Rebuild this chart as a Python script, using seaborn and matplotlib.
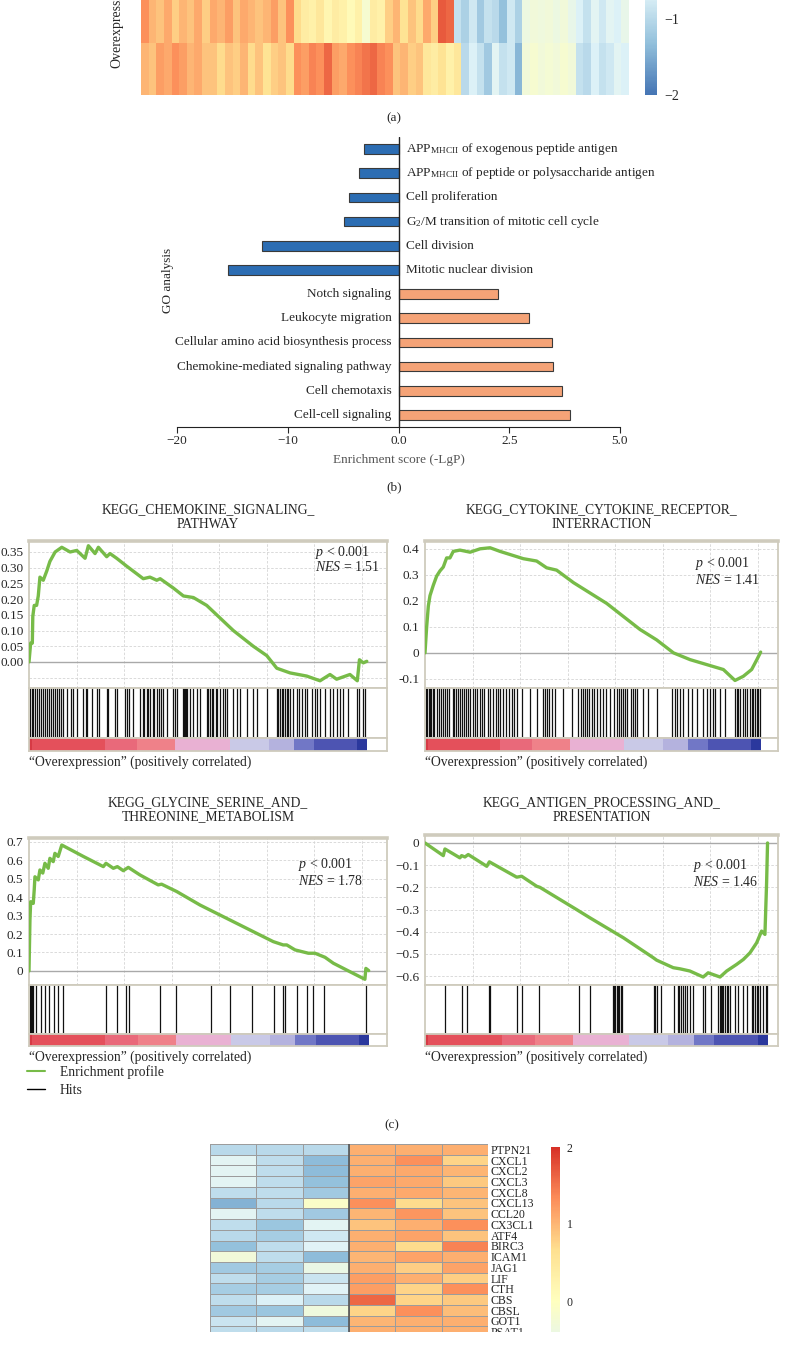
import numpy as np
import pandas as pd
import seaborn as sns
import matplotlib.pyplot as plt
from matplotlib.colors import LinearSegmentedColormap
from matplotlib.lines import Line2D
from matplotlib.patches import Rectangle

# ---------------- data ----------------
# (a) expression heatmap, the two visible "Overexpression" rows (z-scores)
heat_row1 = [1.3, 1.0, 0.9, 1.1, 0.8, 1.0, 0.9, 1.1, 0.8,
             1.1, 1.0, 1.2, 0.9, 1.1, 1.0, 0.9, 1.0,
             1.2, 0.9, 1.3, 0.7,
             0.4, 0.3, 0.5, 0.2, 0.4, 0.3, 0.1, 0.3, -0.2, 0.4, 0.3,
             0.8, 1.0, 0.6, 0.9, 0.7, 1.1, 0.8,
             1.7, 1.6,
             -0.9, -1.1, -0.8, -1.2, -0.9, -1.0, -1.3, -0.8, -1.1,
             -0.4, -0.3, -0.35, -0.3, -0.4, -0.3, -0.5,
             -0.7, -0.9, -0.6, -0.8, -0.6, -0.7, -0.5]
heat_row2 = [1.0, 0.9, 1.2, 1.1, 1.3, 1.2, 1.0, 1.1, 0.9,
             0.9, 0.7, 0.9, 0.8, 1.0, 0.7, 0.9, 0.6, 0.8, 0.9, 0.7,
             1.3, 1.2, 1.4, 1.3, 1.6, 1.2, 1.1, 1.3, 1.4, 1.5, 1.6, 1.4, 1.3,
             0.9, 1.0, 0.8, 0.9,
             0.5, 0.4, 0.6, 0.3, 0.5,
             -1.0, -0.7, -0.9, -1.2, -0.6, -0.9, -0.8, -1.4,
             -0.3, -0.2, -0.3, -0.25, -0.3, -0.2, -0.3,
             -0.9, -1.0, -0.7, -0.9, -0.8, -0.6, -0.7]
heat_a_ticks = [-2, -1]
heat_a_labels = ["\u22122", "\u22121"]

# (b) GO enrichment
go_terms = [
    r"APP$_{\mathrm{MHCII}}$ of exogenous peptide antigen",
    r"APP$_{\mathrm{MHCII}}$ of peptide or polysaccharide antigen",
    "Cell proliferation",
    r"G$_{2}$/M transition of mitotic cell cycle",
    "Cell division",
    "Mitotic nuclear division",
    "Notch signaling",
    "Leukocyte migration",
    "Cellular amino acid biosynthesis process",
    "Chemokine-mediated signaling pathway",
    "Cell chemotaxis",
    "Cell-cell signaling",
]
go_scores = [-3.15, -3.6, -4.5, -4.95, -12.3, -15.4, 2.24, 2.94, 3.46, 3.48, 3.69, 3.87]
go_ticks = [-20, -10, 0, 2.5, 5]
go_tick_labels = ["\u221220", "\u221210", "0.0", "2.5", "5.0"]

# (c) GSEA running enrichment scores, hit positions (gene ranks)
gsea_titles = ["KEGG_CHEMOKINE_SIGNALING_\nPATHWAY",
               "KEGG_CYTOKINE_CYTOKINE_RECEPTOR_\nINTERRACTION",
               "KEGG_GLYCINE_SERINE_AND_\nTHREONINE_METABOLISM",
               "KEGG_ANTIGEN_PROCESSING_AND_\nPRESENTATION"]
gsea_nes = ["1.51", "1.41", "1.78", "1.46"]
gsea_list_size = [14220, 14130, 14320, 14450]

chemokine_rank = [0, 70, 140, 160, 220, 320, 390, 460, 600, 750,
                  880, 1100, 1380, 1730, 2010, 2360, 2500, 2780, 2920, 3270,
                  3410, 3690, 4110, 4810, 5090, 5380, 5520, 6080, 6500, 6920,
                  7480, 8600, 9440, 10010, 10430, 10990, 11690, 12250, 12670, 12950,
                  13510, 13820, 13910, 14070, 14220]
chemokine_es = [0, 0.06, 0.06, 0.145, 0.18, 0.18, 0.21, 0.27, 0.26, 0.29,
                0.32, 0.35, 0.365, 0.35, 0.355, 0.33, 0.37, 0.345, 0.365, 0.335,
                0.345, 0.33, 0.305, 0.265, 0.27, 0.26, 0.265, 0.235, 0.21, 0.205,
                0.18, 0.10, 0.05, 0.02, -0.02, -0.035, -0.045, -0.06, -0.04, -0.055,
                -0.04, -0.06, 0.007, -0.003, 0.002]
chemokine_hits = [40, 110, 180, 270, 350, 430, 490, 600, 690, 740, 830, 910, 1020, 1110,
                  1160, 1280, 1360, 1420, 1590, 1780, 1870, 2030, 2290, 2400, 2460, 2640,
                  2850, 2950, 3270, 3340, 3620, 3690, 4040, 4110, 4220, 4390, 4670, 4780,
                  4840, 4950, 5010, 5090, 5210, 5260, 5370, 5490, 5570, 5650, 5790, 6080,
                  6150, 6220, 6500, 6520, 6570, 6610, 6660, 6780, 6920, 7060, 7200, 7480,
                  7550, 7620, 7700, 7760, 7870, 7930, 8040, 8150, 8240, 8320, 8600, 8770,
                  8880, 9160, 9440, 9580, 10000, 10420, 10490, 10560, 10630, 10710, 10780,
                  10850, 10920, 10990, 11130, 11270, 11380, 11480, 11620, 11690, 11900,
                  12040, 12110, 12250, 12460, 12670, 12810, 12950, 13090, 13230, 13440,
                  13820, 13900, 14070, 14140]

cytokine_rank = [0, 70, 140, 210, 350, 490, 630, 770, 910, 1050,
                 1190, 1470, 1900, 2320, 2740, 3160, 3580, 4140, 4700, 5120,
                 5540, 6250, 6950, 7650, 8350, 9050, 9750, 10460, 11160, 11860,
                 12560, 13050, 13400, 13750, 13970, 14130]
cytokine_es = [0, 0.10, 0.18, 0.22, 0.26, 0.295, 0.315, 0.33, 0.365, 0.365,
               0.39, 0.395, 0.387, 0.40, 0.404, 0.39, 0.378, 0.362, 0.353, 0.327,
               0.318, 0.27, 0.23, 0.19, 0.14, 0.09, 0.05, 0.0, -0.026, -0.045,
               -0.064, -0.106, -0.09, -0.064, -0.026, 0.003]
cytokine_hits = [40, 100, 150, 210, 270, 320, 380, 490, 570, 660, 770, 860, 940, 1020,
                 1160, 1220, 1300, 1400, 1470, 1540, 1640, 1730, 1820, 1890, 2010, 2100,
                 2200, 2310, 2380, 2500, 2670, 2740, 2880, 2990, 3090, 3160, 3300, 3410,
                 3520, 3650, 3750, 3860, 4070, 4420, 4700, 4950, 5050, 5120, 5230, 5330,
                 5470, 5820, 6170, 6450, 6550, 6640, 6720, 6800, 6920, 7010, 7110, 7230,
                 7370, 7510, 7620, 7790, 7950, 8070, 8150, 8240, 8350, 8420, 8520, 8660,
                 8770, 8840, 8940, 9190, 9400, 9750, 10380, 10520, 10620, 10730, 10870,
                 11080, 11220, 11430, 11710, 11860, 12000, 12110, 12210, 12420, 12630,
                 13050, 13120, 13190, 13260, 13370, 13480, 13570, 13680, 13750, 13820,
                 13890, 13960, 14030, 14100]

glycine_rank = [0, 40, 70, 180, 220, 250, 390, 460, 580, 670,
                810, 880, 1020, 1090, 1230, 1380, 2290, 3130, 3240, 3550,
                3720, 3970, 4180, 4670, 5440, 5580, 6220, 7200, 7760, 8600,
                9300, 9440, 10280, 10700, 10850, 11200, 11760, 12040, 12460, 12810,
                13510, 14140, 14180, 14300]
glycine_es = [0, 0.276, 0.375, 0.366, 0.44, 0.51, 0.493, 0.547, 0.53, 0.583,
              0.556, 0.61, 0.592, 0.637, 0.62, 0.682, 0.62, 0.565, 0.583, 0.556,
              0.565, 0.543, 0.561, 0.52, 0.466, 0.47, 0.43, 0.357, 0.321, 0.267,
              0.222, 0.213, 0.159, 0.141, 0.141, 0.114, 0.096, 0.096, 0.074, 0.042,
              -0.004, -0.045, 0.014, 0.002]
glycine_hits = [40, 80, 130, 180, 290, 490, 670, 840, 1050, 1230, 1420, 3230, 3720,
                4070, 4200, 5530, 6190, 7650, 8460, 9370, 10310, 10680, 10780, 11270,
                11720, 11970, 12430, 14170]

antigen_rank = [0, 770, 840, 1470, 1540, 1680, 1820, 2600, 2710, 3860,
                4070, 4700, 4840, 6380, 6940, 8350, 9610, 9750, 10450, 10730,
                11150, 11710, 11920, 12420, 12700, 13120, 13400, 13680, 13960, 14170,
                14310, 14380, 14420]
antigen_es = [0, -0.057, -0.027, -0.067, -0.057, -0.063, -0.052, -0.105, -0.085, -0.154,
              -0.15, -0.195, -0.2, -0.30, -0.337, -0.427, -0.517, -0.528, -0.562, -0.567,
              -0.577, -0.604, -0.585, -0.604, -0.577, -0.547, -0.525, -0.495, -0.45, -0.397,
              -0.412, -0.18, 0]
antigen_hits = [840, 1540, 1780, 2710, 2740, 3890, 4070, 4780, 6480, 6940, 7900, 7950,
                8010, 8070, 8120, 8180, 8240, 8300, 9640, 9690, 9750, 9920, 10480, 10660,
                10700, 10760, 10840, 10940, 11010, 11150, 11290, 11710, 11780, 12020,
                12350, 12420, 12460, 12500, 12560, 12630, 12700, 12770, 12840, 13050,
                13190, 13400, 13540, 13750, 13820, 13890, 13960, 14030, 14100, 14240,
                14350, 14410]

gsea_yticks = [[-0.05, 0, 0.05, 0.10, 0.15, 0.20, 0.25, 0.30, 0.35],
               [-0.1, 0, 0.1, 0.2, 0.3, 0.4],
               [0, 0.1, 0.2, 0.3, 0.4, 0.5, 0.6, 0.7],
               [-0.6, -0.5, -0.4, -0.3, -0.2, -0.1, 0]]
gsea_ytick_labels = [["", "0.00", "0.05", "0.10", "0.15", "0.20", "0.25", "0.30", "0.35"],
                     ["-0.1", "0", "0.1", "0.2", "0.3", "0.4"],
                     ["0", "0.1", "0.2", "0.3", "0.4", "0.5", "0.6", "0.7"],
                     ["\u22120.6", "\u22120.5", "\u22120.4", "\u22120.3", "\u22120.2", "\u22120.1", "0"]]

# (d) heatmap of selected genes (3 control vs 3 overexpression)
genes = ["PTPN21", "CXCL1", "CXCL2", "CXCL3", "CXCL8", "CXCL13", "CCL20", "CX3CL1", "ATF4",
         "BIRC3", "ICAM1", "JAG1", "LIF", "CTH", "CBS", "CBSL", "GOT1", "PSAT1"]
ctrl_1 = [-1.0, -0.6, -0.6, -0.6, -0.95, -1.45, -0.6, -0.95, -1.0, -1.3, -0.3, -1.2, -0.95, -1.15, -0.95, -1.2, -0.85, -0.95]
ctrl_2 = [-1.0, -0.95, -0.95, -0.95, -0.95, -1.0, -0.95, -1.25, -1.15, -0.95, -0.95, -1.15, -1.15, -1.15, -0.7, -1.25, -0.6, -1.0]
ctrl_3 = [-1.0, -1.35, -1.35, -1.3, -1.2, -0.1, -1.2, -0.6, -0.8, -0.65, -1.35, -0.45, -0.85, -0.65, -1.0, -0.35, -1.35, -0.95]
oe_1 = [1.05, 1.05, 1.05, 1.15, 1.05, 1.3, 1.0, 0.9, 1.05, 1.05, 1.0, 1.05, 1.2, 1.2, 1.6, 0.75, 1.0, 1.05]
oe_2 = [1.05, 1.3, 1.1, 1.1, 1.1, 0.7, 1.25, 1.05, 1.15, 0.7, 1.15, 0.8, 1.05, 0.75, 0.75, 1.3, 1.05, 1.05]
oe_3 = [1.05, 0.75, 1.0, 0.85, 1.0, 0.9, 0.9, 1.3, 0.9, 1.4, 1.05, 1.15, 0.8, 1.3, 0.85, 0.95, 1.05, 1.05]
heat_d_ticks = [0, 1, 2]

# ---------------- style ----------------
sns.set_style("white")
plt.rcParams["font.family"] = ["Liberation Serif", "DejaVu Serif"]
plt.rcParams["mathtext.fontset"] = "custom"
plt.rcParams["mathtext.rm"] = "Liberation Serif"
plt.rcParams["mathtext.it"] = "Liberation Serif:italic"
plt.rcParams["mathtext.bf"] = "Liberation Serif:bold"

# pheatmap default palette
ph_cmap = LinearSegmentedColormap.from_list(
    "ph", ["#4575B4", "#91BFDB", "#E0F3F8", "#FFFFBF", "#FEE090", "#FC8D59", "#D73027"])
es_green = "#77bb48"
frame_col = "#cfcbbd"
rank_band_edges = [0, 0.01, 0.224, 0.319, 0.432, 0.594, 0.709, 0.783, 0.843, 0.971, 1.0]
rank_band_colors = ["#d63a45", "#e4505b", "#e9697a", "#ef8189", "#e9b1d3",
                    "#c9c9e7", "#b4b2de", "#7177c6", "#4d54b2", "#2b389d"]

W, H = 788, 1345
fig = plt.figure(figsize=(W / 100, H / 100), dpi=100)


def box(x0, y0, x1, y1):
    # pixel box (top-left origin) -> figure fraction rect
    return [x0 / W, 1 - y1 / H, (x1 - x0) / W, (y1 - y0) / H]


# ---------------- (a) ----------------
ax_a = fig.add_axes(box(141, -9, 629, 95))
cax_a = fig.add_axes(box(645, -209, 657, 95))
sns.heatmap(np.array([heat_row1, heat_row2]), cmap=ph_cmap, vmin=-2, vmax=2,
            ax=ax_a, cbar_ax=cax_a, xticklabels=False, yticklabels=False)
cax_a.set_yticks(heat_a_ticks)
cax_a.set_yticklabels(heat_a_labels)
cax_a.tick_params(length=0, labelsize=10, pad=5)
fig.text(117 / W, 1 - 68 / H, "Overexpression", rotation=90, ha="center", va="bottom", fontsize=10)
fig.text(394 / W, 1 - 118 / H, "(a)", ha="center", va="center", fontsize=9.5)

# ---------------- (b) ----------------
ax_b = fig.add_axes(box(177, 137, 620, 427))
go_df = pd.DataFrame({"term": go_terms, "score": go_scores})
go_df["direction"] = np.where(go_df["score"] < 0, "down", "up")
sns.barplot(data=go_df, x="score", y="term", hue="direction", orient="h",
            palette={"down": "#2c6db3", "up": "#f5a377"}, dodge=False, width=0.4,
            saturation=1, edgecolor="#3a3a3a", linewidth=0.8, legend=False, ax=ax_b)


def fwd(x):
    x = np.asarray(x, dtype=float)
    return np.where(x < 0, x / 20.0, x / 5.0)


def inv(y):
    y = np.asarray(y, dtype=float)
    return np.where(y < 0, y * 20.0, y * 5.0)


ax_b.set_xscale("function", functions=(fwd, inv))
ax_b.set_xlim(-20, 5)
ax_b.set_ylim(len(go_terms) - 0.5, -0.5)
ax_b.set_xticks(go_ticks)
ax_b.set_xticklabels(go_tick_labels)
ax_b.set_yticks([])
ax_b.set_ylabel("")
ax_b.axvline(0, color="#222222", lw=1)
sns.despine(ax=ax_b, left=True)
ax_b.spines["bottom"].set_color("#222222")
ax_b.tick_params(axis="x", bottom=True, length=4, width=0.8, labelsize=9.5, pad=2)
ax_b.set_xlabel("Enrichment score (-LgP)", fontsize=9.5, color="#555555", labelpad=5)
for i, (term, score) in enumerate(zip(go_terms, go_scores)):
    if score < 0:
        ax_b.annotate(term, (0, i), xytext=(8, 0), textcoords="offset pixels",
                      ha="left", va="center", fontsize=9.5)
    else:
        ax_b.annotate(term, (0, i), xytext=(-7, 0), textcoords="offset pixels",
                      ha="right", va="center", fontsize=9.5)
fig.text(168 / W, 1 - 280 / H, "GO analysis", rotation=90, ha="center", va="center", fontsize=9.5)
fig.text(394 / W, 1 - 487 / H, "(b)", ha="center", va="center", fontsize=9.5)

# ---------------- (c) ----------------
gsea_ranks = [chemokine_rank, cytokine_rank, glycine_rank, antigen_rank]
gsea_es = [chemokine_es, cytokine_es, glycine_es, antigen_es]
gsea_hits = [chemokine_hits, cytokine_hits, glycine_hits, antigen_hits]
# x0, es_top, x1, es_bottom, hits_bottom, bar_bottom, title_y
gsea_boxes = [(29, 541, 387, 688, 738, 751, 517),
              (425, 541, 778, 688, 738, 751, 517),
              (29, 838, 387, 985, 1034, 1046, 810),
              (425, 835, 778, 985, 1034, 1046, 810)]
gsea_ylims = [(-0.083, 0.385), (-0.135, 0.43), (-0.076, 0.72), (-0.64, 0.036)]
gsea_xmax = [15070, 14860, 15070, 14860]
gsea_text_pos = [(0.80, 0.925, 0.82), (0.765, 0.85, 0.735), (0.75, 0.82, 0.71), (0.76, 0.80, 0.69)]

for k in range(4):
    x0, y0, x1, ye, yh, yb, ty = gsea_boxes[k]
    ax_es = fig.add_axes(box(x0, y0, x1, ye))
    ax_hit = fig.add_axes(box(x0, ye, x1, yh))
    ax_bar = fig.add_axes(box(x0, yh, x1, yb))

    ax_es.set_yticks(gsea_yticks[k])
    ax_es.set_yticklabels(gsea_ytick_labels[k])
    ax_es.set_xticks(range(2000, 15000, 2000))
    ax_es.grid(True, ls=(0, (3, 2)), color="#d4d4d4", lw=0.6)
    ax_es.axhline(0, color="#a9a9a9", lw=1, zorder=1)
    sns.lineplot(x=gsea_ranks[k], y=gsea_es[k], ax=ax_es, color=es_green, lw=2.4,
                 sort=False, estimator=None, zorder=3)
    ax_es.set_xlim(0, gsea_xmax[k])
    ax_es.set_ylim(*gsea_ylims[k])
    ax_es.set_xlabel("")
    ax_es.set_ylabel("")
    ax_es.tick_params(axis="x", length=0, labelbottom=False)
    ax_es.tick_params(axis="y", length=0, pad=4, labelsize=9.5)

    tx, py, ny = gsea_text_pos[k]
    ax_es.text(tx, py, r"$p$ < 0.001", transform=ax_es.transAxes, ha="left", va="center", fontsize=10)
    ax_es.text(tx, ny, r"$NES$ = " + gsea_nes[k], transform=ax_es.transAxes, ha="left", va="center", fontsize=10)

    ax_hit.vlines(gsea_hits[k], 0, 1, colors="#111111", lw=0.9)
    ax_hit.set_xlim(0, gsea_xmax[k])
    ax_hit.set_ylim(0, 1)

    n = gsea_list_size[k]
    for e0, e1, c in zip(rank_band_edges[:-1], rank_band_edges[1:], rank_band_colors):
        ax_bar.axvspan(e0 * n, e1 * n, color=c, lw=0)
    ax_bar.set_xlim(0, gsea_xmax[k])

    for a in (ax_es, ax_hit, ax_bar):
        for s in a.spines.values():
            s.set_color(frame_col)
            s.set_linewidth(1.3)
    ax_es.spines["top"].set_linewidth(2.6)
    for a in (ax_hit, ax_bar):
        a.set_xticks([])
        a.set_yticks([])

    fig.text(((x0 + x1) / 2) / W, 1 - ty / H, gsea_titles[k], ha="center", va="center",
             fontsize=9.8, linespacing=1.1)
    fig.text(x0 / W, 1 - (yb + 11) / H, "\u201cOverexpression\u201d (positively correlated)",
             ha="left", va="center", fontsize=9.8)

fig.legend(handles=[Line2D([], [], color=es_green, lw=1.5), Line2D([], [], color="black", lw=1)],
           labels=["Enrichment profile", "Hits"], loc="upper left",
           bbox_to_anchor=(27 / W, 1 - 1065 / H), frameon=False, fontsize=9.8,
           handlelength=1.3, handletextpad=1.1, labelspacing=0.35, borderaxespad=0, borderpad=0)
fig.text(392 / W, 1 - 1125 / H, "(c)", ha="center", va="center", fontsize=9.5)

# ---------------- (d) ----------------
ax_d = fig.add_axes(box(210, 1144, 488, 1337))
cax_d = fig.add_axes(box(551, 1147, 560, 1455))
gene_df = pd.DataFrame({"C1": ctrl_1, "C2": ctrl_2, "C3": ctrl_3,
                        "O1": oe_1, "O2": oe_2, "O3": oe_3}, index=genes)
sns.heatmap(gene_df, cmap=ph_cmap, vmin=-2, vmax=2, linewidths=0.7, linecolor="#9c9c9c",
            ax=ax_d, cbar_ax=cax_d, xticklabels=False, yticklabels=True)
ax_d.axvline(3, color="#555555", lw=1.2)
ax_d.yaxis.tick_right()
ax_d.tick_params(axis="y", length=0, pad=2, labelsize=8.6, rotation=0)
cax_d.set_yticks(heat_d_ticks)
cax_d.set_yticklabels([str(t) for t in heat_d_ticks])
cax_d.tick_params(length=0, labelsize=8.5, pad=5)

# page is cut just below the last visible row
fig.add_artist(Rectangle((0, 0), 1, 13 / H, transform=fig.transFigure,
                         facecolor="white", edgecolor="none", zorder=100))

fig.savefig("out.png", dpi=100)
